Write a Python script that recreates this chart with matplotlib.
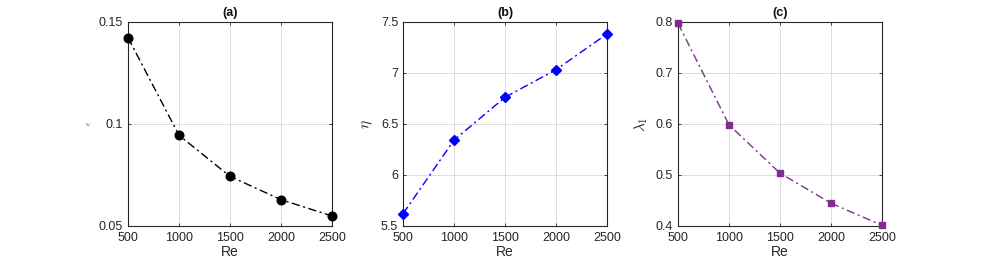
import matplotlib.pyplot as plt

plt.rcParams['font.family'] = ['Liberation Sans', 'DejaVu Sans']
plt.rcParams['mathtext.fontset'] = 'cm'

# data
re_vals = [500, 1000, 1500, 2000, 2500]
eps_vals = [0.1422, 0.0944, 0.0743, 0.0629, 0.0549]
eta_vals = [5.62, 6.34, 6.76, 7.03, 7.38]
lam_vals = [0.797, 0.598, 0.5035, 0.4446, 0.4014]

titles = ['(a)', '(b)', '(c)']
ylabels = [r'$\epsilon$', r'$\eta$', r'$\lambda_1$']
ylabel_sizes = [6, 11, 11]
ylims = [(0.05, 0.15), (5.5, 7.5), (0.4, 0.8)]
yticks = [[0.05, 0.1, 0.15], [5.5, 6, 6.5, 7, 7.5], [0.4, 0.5, 0.6, 0.7, 0.8]]
yticklabels = [['0.05', '0.1', '0.15'], ['5.5', '6', '6.5', '7', '7.5'],
               ['0.4', '0.5', '0.6', '0.7', '0.8']]
colors = ['black', 'blue', '#7E2F8E']
markers = ['o', 'D', 's']
msizes = [6.2, 5.5, 4.6]
series = [eps_vals, eta_vals, lam_vals]

fig = plt.figure(figsize=(9.81, 2.67), dpi=100)
W, H = 981, 267
lefts = [128, 403, 678]
axw = 204
top, bottom = 21.7, 226

for i in range(3):
    ax = fig.add_axes([lefts[i] / W, 1 - bottom / H, axw / W, (bottom - top) / H])
    ax.plot(re_vals, series[i], color=colors[i], linestyle=(0, (6, 2.5, 1.5, 2.5)),
            linewidth=1, marker=markers[i], markersize=msizes[i],
            markerfacecolor=colors[i], markeredgecolor=colors[i],
            clip_on=False, zorder=3)
    ax.set_xlim(500, 2500)
    ax.set_ylim(*ylims[i])
    ax.set_xticks(re_vals)
    ax.set_xticklabels([str(v) for v in re_vals])
    ax.set_yticks(yticks[i])
    ax.set_yticklabels(yticklabels[i])
    ax.grid(True, color='#dcdcdc', linewidth=0.7)
    ax.set_axisbelow(True)
    ax.tick_params(direction='in', length=2.5, width=0.6, labelsize=9,
                   colors='#262626', top=True, right=True)
    ax.tick_params(axis='x', pad=4)
    ax.tick_params(axis='y', pad=3.5)
    for s in ax.spines.values():
        s.set_linewidth(0.8)
        s.set_color('#262626')
    ax.set_title(titles[i], fontsize=9, fontweight='bold', pad=4, color='#111111')
    ax.set_xlabel('Re', fontsize=10, color='#262626', labelpad=1)
    ax.set_ylabel(ylabels[i], fontsize=ylabel_sizes[i], color='#262626', labelpad=4)

fig.savefig('out.png', dpi=100)
